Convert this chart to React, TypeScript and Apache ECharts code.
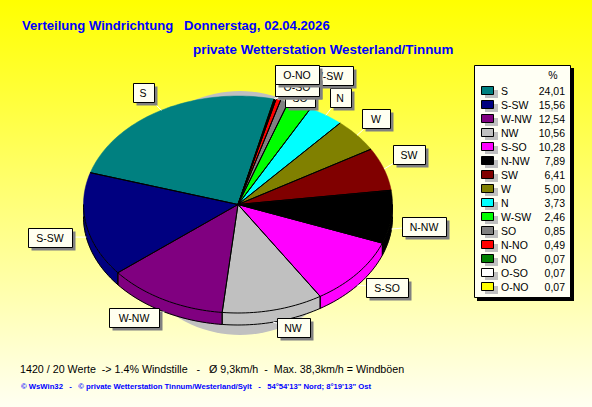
import React, { useEffect, useRef } from "react";
import * as echarts from "echarts";

const legendNames = ["S","S-SW","W-NW","NW","S-SO","N-NW","SW","W","N","W-SW","SO","N-NO","NO","O-SO","O-NO"];
const legendLabels = ["24,01","15,56","12,54","10,56","10,28","7,89","6,41","5,00","3,73","2,46","0,85","0,49","0,07","0,07","0,07"];
const percentValues = [24.01,15.56,12.54,10.56,10.28,7.89,6.41,5.0,3.73,2.46,0.85,0.49,0.07,0.07,0.07];
const sliceColors = ["#008080","#000080","#800080","#c0c0c0","#ff00ff","#000000","#800000","#808000","#00ffff","#00ff00","#808080","#ff0000","#008000","#ffffff","#ffff00"];

const titleLine1 = "Verteilung Windrichtung   Donnerstag, 02.04.2026";
const titleLine2 = "private Wetterstation Westerland/Tinnum";
const footerLine1 = "1420 / 20 Werte  -> 1.4% Windstille   -   Ø 9,3km/h  -  Max. 38,3km/h = Windböen";
const footerLine2 = "© WsWin32   -   © private Wetterstation Tinnum/Westerland/Sylt   -   54°54'13\" Nord; 8°19'13\" Ost";

// Layout only: label box centre x, centre y, box width
const labelBoxes: Record<string, [number, number, number]> = {
  S: [143, 92, 21], "S-SW": [50, 237, 44], "W-NW": [134, 317, 50], NW: [293, 327, 33],
  "S-SO": [387, 287, 42], "N-NW": [424, 226, 44], SW: [409, 154, 32], W: [376, 118, 28],
  N: [340, 97, 21], "W-SW": [328, 75, 50], SO: [300, 97, 30], "N-NO": [297, 86, 44],
  NO: [297, 80, 30], "O-SO": [297, 86, 44], "O-NO": [297, 74, 44],
};

const CX = 238, CY = 204.5, RX = 154.5, RY = 108.5, DEPTH = 12, START_DEG = 13.5;
const FONT = '"Liberation Sans", Arial, sans-serif';
const total = percentValues.reduce((a, b) => a + b, 0);

// Slices run clockwise from smallest to largest, legend order reversed
const clockwise = percentValues.map((_, i) => percentValues.length - 1 - i);
const startPct: number[] = [];
{
  let acc = 0;
  clockwise.forEach((idx) => { startPct[idx] = acc; acc += percentValues[idx]; });
}
const toAngle = (pct: number) => START_DEG + (pct / total) * 360;
const rim = (deg: number, dy = 0): number[] => {
  const r = (deg * Math.PI) / 180;
  return [CX + RX * Math.sin(r), CY + dy - RY * Math.cos(r)];
};
const arcPoints = (a0: number, a1: number, dy = 0) => {
  const n = Math.max(2, Math.ceil(Math.abs(a1 - a0) / 1.5));
  const pts: number[][] = [];
  for (let i = 0; i <= n; i++) pts.push(rim(a0 + ((a1 - a0) * i) / n, dy));
  return pts;
};
const black = { fill: "none", stroke: "#000", lineWidth: 1 };

function renderSlice(params: any, api: any) {
  const i = params.dataIndex;
  const a0 = api.value(1) as number;
  const a1 = a0 + ((api.value(0) as number) / total) * 360;
  const color = sliceColors[i];
  const children: any[] = [];
  if (i === 0) {
    // soft grey drop shadow below the pie
    const pts: number[][] = [];
    for (let d = 0; d < 360; d += 3) {
      const r = (d * Math.PI) / 180;
      pts.push([240 + 120 * Math.sin(r), 213 - 122 * Math.cos(r)]);
    }
    children.push({ type: "polygon", z2: -5, shape: { points: pts }, style: { fill: "#c0c0c0" } });
  }
  const sideA = Math.max(a0, 90), sideB = Math.min(a1, 270);
  if (sideB > sideA) {
    const top = arcPoints(sideA, sideB);
    const bottom = arcPoints(sideA, sideB, DEPTH).reverse();
    children.push({ type: "polygon", z2: 1, shape: { points: [...top, ...bottom] }, style: { fill: color, stroke: color, lineWidth: 0.5 } });
    children.push({ type: "polyline", z2: 3, shape: { points: arcPoints(sideA, sideB, DEPTH) }, style: black });
    children.push({ type: "polyline", z2: 3, shape: { points: arcPoints(sideA, sideB) }, style: black });
    if (a0 >= 90) children.push({ type: "polyline", z2: 3, shape: { points: [rim(a0), rim(a0, DEPTH)] }, style: black });
    if (a1 <= 270) children.push({ type: "polyline", z2: 3, shape: { points: [rim(a1), rim(a1, DEPTH)] }, style: black });
  }
  children.push({ type: "polygon", z2: 2, shape: { points: [[CX, CY], ...arcPoints(a0, a1)] }, style: { fill: color, stroke: color, lineWidth: 0.5 } });
  children.push({ type: "polyline", z2: 3, shape: { points: [rim(a0), [CX, CY], rim(a1)] }, style: black });
  return { type: "group", children };
}

function buildGraphics() {
  const g: any[] = [];
  const text = (x: number, y: number, t: string, size: number, color: string, bold = false, align = "left", z = 30) => ({
    type: "text", x, y, z,
    style: { text: t, fill: color, align, verticalAlign: "middle", font: `${bold ? "bold " : ""}${size}px ${FONT}` },
  });
  g.push(text(22, 25, titleLine1, 13.1, "#0000ff", true));
  g.push(text(193, 49, titleLine2, 13.4, "#0000ff", true));
  g.push(text(20, 369, footerLine1, 10.7, "#000000"));
  g.push(text(21, 386, footerLine2, 7.7, "#0000ff", true));

  // Leader lines, then label boxes
  legendNames.forEach((name, i) => {
    const [lx, ly, lw] = labelBoxes[name];
    const mid = toAngle(startPct[i] + percentValues[i] / 2);
    const lower = mid > 90 && mid < 270;
    const [px, py] = rim(mid, lower ? DEPTH : 0);
    g.push({ type: "line", z: 12, shape: { x1: px, y1: py, x2: lx, y2: ly }, style: { stroke: "#ffffff", lineWidth: 1 } });
    const h = 19, x = Math.round(lx - lw / 2) + 0.5, y = Math.round(ly - h / 2) + 0.5;
    const z = 13 + i;
    g.push({ type: "rect", z, shape: { x: x + 3, y: y + 3, width: lw, height: h }, style: { fill: "#808080" } });
    g.push({ type: "rect", z, shape: { x, y, width: lw, height: h }, style: { fill: "#fffff0", stroke: "#000", lineWidth: 1 } });
    g.push(text(lx, ly + 0.5, name, 10.5, "#000000", false, "center", z));
  });

  // Legend panel
  g.push({ type: "rect", z: 30, shape: { x: 477, y: 68, width: 97, height: 233 }, style: { fill: "#000" } });
  g.push({ type: "rect", z: 30, shape: { x: 474.5, y: 65.5, width: 96, height: 232 }, style: { fill: "#fffff4", stroke: "#000", lineWidth: 1 } });
  g.push(text(553, 75, "%", 10.5, "#000000", false, "center", 31));
  legendNames.forEach((name, i) => {
    const y = 91 + i * 14;
    g.push({ type: "rect", z: 31, shape: { x: 485, y: y - 1, width: 13, height: 8 }, style: { fill: "#c0c0c0" } });
    g.push({ type: "rect", z: 31, shape: { x: 481.5, y: y - 4.5, width: 12, height: 8 }, style: { fill: sliceColors[i], stroke: "#000", lineWidth: 1 } });
    g.push(text(501, y, name, 10.5, "#000000", false, "left", 31));
    g.push(text(565, y, legendLabels[i], 10.5, "#000000", false, "right", 31));
  });
  return g;
}

export default function App() {
  const ref = useRef<HTMLDivElement>(null);
  useEffect(() => {
    document.body.style.margin = "0";
    const chart = echarts.init(ref.current!, undefined, { renderer: "svg" });
    chart.setOption({
      animation: false,
      backgroundColor: {
        type: "linear", x: 0, y: 0, x2: 0, y2: 1,
        colorStops: [{ offset: 0, color: "#ffff00" }, { offset: 1, color: "#fffff2" }],
      },
      graphic: { elements: buildGraphics() },
      series: [{
        type: "custom",
        coordinateSystem: "none",
        z: 5,
        silent: true,
        renderItem: renderSlice,
        data: legendNames.map((name, i) => ({ name, value: [percentValues[i], toAngle(startPct[i])] })),
      }],
    });
    return () => chart.dispose();
  }, []);
  return <div ref={ref} style={{ width: 592, height: 407 }} />;
}
